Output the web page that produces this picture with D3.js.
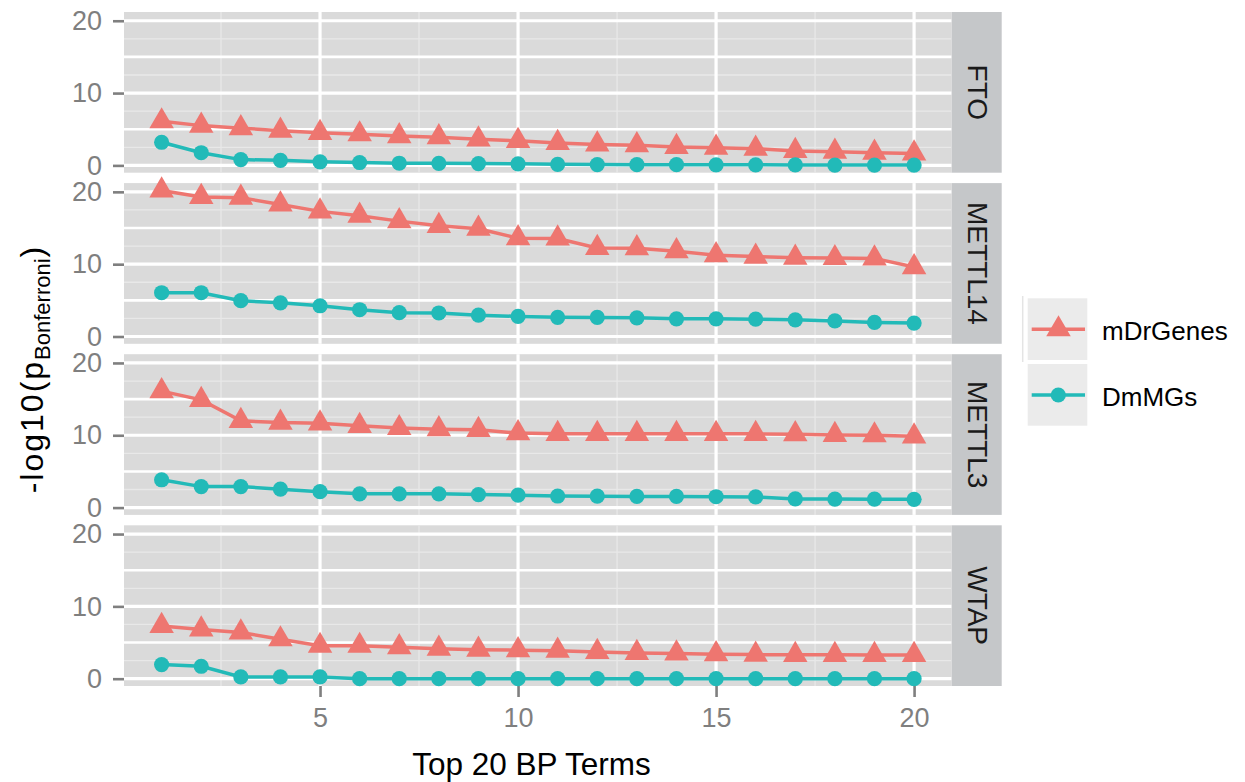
<!DOCTYPE html>
<html>
<head>
<meta charset="utf-8">
<script src="https://cdnjs.cloudflare.com/ajax/libs/d3/7.8.5/d3.min.js"></script>
<style>
  body { margin: 0; background: #fff; }
  svg { font-family: "Liberation Sans", Arial, sans-serif; }
</style>
</head>
<body>
<svg id="chart" width="1245" height="782"></svg>
<script>
// data
var terms = [1, 2, 3, 4, 5, 6, 7, 8, 9, 10, 11, 12, 13, 14, 15, 16, 17, 18, 19, 20]
var genes = ['FTO', 'METTL14', 'METTL3', 'WTAP']
var seriesNames = ['mDrGenes', 'DmMGs']

var ftoMDr = [6.1, 5.5, 5.15, 4.8, 4.5, 4.3, 4.05, 3.9, 3.6, 3.4, 3.1, 2.9, 2.8, 2.55, 2.45, 2.3, 2.0, 1.9, 1.75, 1.65]
var ftoDmMG = [3.2, 1.75, 0.8, 0.7, 0.5, 0.4, 0.3, 0.28, 0.25, 0.22, 0.15, 0.12, 0.1, 0.1, 0.08, 0.08, 0.07, 0.05, 0.05, 0.05]
var mettl14MDr = [20.2, 19.3, 19.2, 18.25, 17.3, 16.7, 15.95, 15.3, 14.9, 13.6, 13.55, 12.25, 12.2, 11.8, 11.25, 11.05, 10.9, 10.85, 10.8, 9.6]
var mettl14DmMG = [6.05, 6.05, 4.95, 4.65, 4.25, 3.7, 3.3, 3.25, 2.95, 2.78, 2.65, 2.63, 2.58, 2.45, 2.44, 2.4, 2.3, 2.15, 1.95, 1.85]
var mettl3MDr = [16.1, 14.9, 12.0, 11.75, 11.65, 11.3, 11.0, 10.85, 10.75, 10.3, 10.2, 10.2, 10.2, 10.2, 10.2, 10.2, 10.15, 10.05, 10.0, 9.85]
var mettl3DmMG = [3.85, 2.9, 2.9, 2.55, 2.2, 1.9, 1.9, 1.9, 1.8, 1.72, 1.6, 1.58, 1.55, 1.55, 1.5, 1.48, 1.2, 1.18, 1.17, 1.15]
var wtapMDr = [7.3, 6.8, 6.4, 5.45, 4.55, 4.55, 4.35, 4.15, 4.0, 3.95, 3.88, 3.7, 3.56, 3.5, 3.38, 3.33, 3.3, 3.3, 3.28, 3.28]
var wtapDmMG = [1.95, 1.72, 0.25, 0.25, 0.25, 0, 0, 0, 0, 0, 0, 0, 0, 0, 0, 0, 0, 0, 0, 0]

var yTicks = [0, 10, 20]
var xTicks = [5, 10, 15, 20]

var panelValues = {
  FTO: [ftoMDr, ftoDmMG],
  METTL14: [mettl14MDr, mettl14DmMG],
  METTL3: [mettl3MDr, mettl3DmMG],
  WTAP: [wtapMDr, wtapDmMG]
}

var colors = ['#EE7670', '#22BAB8']

var svg = d3.select('#chart')

var left = 124, right = 951.7, stripW = 50
var top0 = 12, panelH = 160.7, gap = 10.4

// ggplot style 5% expansion
var allVals = [].concat(ftoMDr, ftoDmMG, mettl14MDr, mettl14DmMG, mettl3MDr, mettl3DmMG, wtapMDr, wtapDmMG)
var yMin = d3.min(allVals), yMax = d3.max(allVals)
var yPad = (yMax - yMin) * 0.05
var xPad = (d3.max(terms) - d3.min(terms)) * 0.05

var x = d3.scaleLinear()
  .domain([d3.min(terms) - xPad, d3.max(terms) + xPad])
  .range([left, right])

var triangle = d3.symbol().type(d3.symbolTriangle).size(260)

genes.forEach(function (gene, gi) {
  var py = top0 + gi * (panelH + gap)
  var y = d3.scaleLinear()
    .domain([yMin - yPad, yMax + yPad])
    .range([py + panelH, py])

  var g = svg.append('g')

  g.append('rect')
    .attr('x', left).attr('y', py)
    .attr('width', right - left).attr('height', panelH)
    .style('fill', '#DADADA')

  // minor grid
  ;[2.5, 7.5, 12.5, 17.5].forEach(function (v) {
    g.append('line')
      .attr('x1', left).attr('x2', right)
      .attr('y1', y(v)).attr('y2', y(v))
      .style('stroke', '#E8E8E8').style('stroke-width', 1.3)
    g.append('line')
      .attr('x1', x(v)).attr('x2', x(v))
      .attr('y1', py).attr('y2', py + panelH)
      .style('stroke', '#E8E8E8').style('stroke-width', 1.3)
  })
  ;[5, 15].forEach(function (v) {
    g.append('line')
      .attr('x1', left).attr('x2', right)
      .attr('y1', y(v)).attr('y2', y(v))
      .style('stroke', '#FFFFFF').style('stroke-width', 2.6)
  })
  // major grid
  yTicks.forEach(function (v) {
    g.append('line')
      .attr('x1', left).attr('x2', right)
      .attr('y1', y(v)).attr('y2', y(v))
      .style('stroke', '#FFFFFF').style('stroke-width', 3.2)
  })
  xTicks.forEach(function (v) {
    g.append('line')
      .attr('x1', x(v)).attr('x2', x(v))
      .attr('y1', py).attr('y2', py + panelH)
      .style('stroke', '#FFFFFF').style('stroke-width', 3.2)
  })

  // strip
  g.append('rect')
    .attr('x', right).attr('y', py)
    .attr('width', stripW).attr('height', panelH)
    .style('fill', '#C5C7C9')
  g.append('text')
    .attr('transform', 'translate(' + (right + stripW / 2 + 1) + ',' + (py + panelH / 2) + ')rotate(90)')
    .attr('text-anchor', 'middle')
    .attr('dominant-baseline', 'central')
    .style('font-size', '28px')
    .style('fill', '#1A1A1A')
    .text(gene)

  // y axis
  var yAxis = g.append('g')
    .attr('transform', 'translate(' + left + ',0)')
    .call(d3.axisLeft(y).tickValues(yTicks).tickSize(11).tickPadding(11))
  yAxis.select('.domain').remove()
  yAxis.selectAll('line').style('stroke', '#7F7F7F').style('stroke-width', 2.6)
  yAxis.selectAll('text')
    .style('font-size', '27px').style('fill', '#7F7F7F')
    .style('font-family', '"Liberation Sans", Arial, sans-serif')

  // x axis on the last panel only
  if (gi === genes.length - 1) {
    var xAxis = g.append('g')
      .attr('transform', 'translate(0,' + (py + panelH) + ')')
      .call(d3.axisBottom(x).tickValues(xTicks).tickSize(11).tickPadding(11))
    xAxis.select('.domain').remove()
    xAxis.selectAll('line').style('stroke', '#7F7F7F').style('stroke-width', 2.6)
    xAxis.selectAll('text')
      .style('font-size', '27px').style('fill', '#7F7F7F')
      .style('font-family', '"Liberation Sans", Arial, sans-serif')
  }

  var line = d3.line()
    .x(function (d, i) { return x(terms[i]) })
    .y(function (d) { return y(d) })

  panelValues[gene].forEach(function (vals, si) {
    g.append('path')
      .datum(vals)
      .attr('d', line)
      .style('fill', 'none')
      .style('stroke', colors[si])
      .style('stroke-width', 3.5)

    if (si === 0) {
      g.selectAll(null)
        .data(vals)
        .enter().append('path')
        .attr('d', triangle)
        .attr('transform', function (d, i) { return 'translate(' + x(terms[i]) + ',' + y(d) + ')' })
        .style('fill', colors[si])
    } else {
      g.selectAll(null)
        .data(vals)
        .enter().append('circle')
        .attr('cx', function (d, i) { return x(terms[i]) })
        .attr('cy', function (d) { return y(d) })
        .attr('r', 7.6)
        .style('fill', colors[si])
    }
  })
})

// axis titles
svg.append('text')
  .attr('x', 531.5).attr('y', 775)
  .attr('text-anchor', 'middle')
  .style('font-size', '31.5px')
  .style('fill', '#000')
  .text('Top 20 BP Terms')

var yTitle = svg.append('text')
  .attr('transform', 'translate(43,370)rotate(-90)')
  .attr('text-anchor', 'middle')
  .style('font-size', '32px')
  .style('fill', '#000')
yTitle.append('tspan').style('letter-spacing', '2px').text('-log10(p')
yTitle.append('tspan').attr('dy', 7).style('font-size', '22px').text('Bonferroni')
yTitle.append('tspan').attr('dy', -7).attr('dx', 1).text(')')

// legend
var legend = svg.append('g')
svg.append('line')
  .attr('x1', 1022.7).attr('x2', 1022.7)
  .attr('y1', 296).attr('y2', 362)
  .style('stroke', '#E4E4E4').style('stroke-width', 1.5)

seriesNames.forEach(function (name, i) {
  var ky = 298.3 + i * 65.7
  var cy = ky + 31
  legend.append('rect')
    .attr('x', 1027.7).attr('y', ky)
    .attr('width', 59.6).attr('height', 61.7)
    .style('fill', '#EBEBEB')
  legend.append('line')
    .attr('x1', 1031.7).attr('x2', 1085)
    .attr('y1', cy).attr('y2', cy)
    .style('stroke', colors[i]).style('stroke-width', 3.5)
  if (i === 0) {
    legend.append('path')
      .attr('d', triangle)
      .attr('transform', 'translate(1058.5,' + cy + ')')
      .style('fill', colors[i])
  } else {
    legend.append('circle')
      .attr('cx', 1058.3).attr('cy', cy).attr('r', 7.6)
      .style('fill', colors[i])
  }
  legend.append('text')
    .attr('x', 1102).attr('y', cy + 2)
    .attr('dominant-baseline', 'central')
    .style('font-size', '26px')
    .style('fill', '#000')
    .text(name)
})
</script>
</body>
</html>
